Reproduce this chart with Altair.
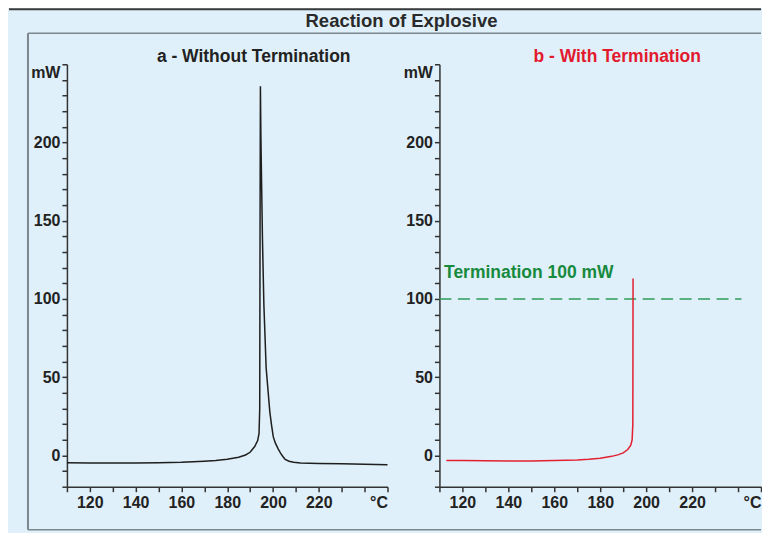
import altair as alt
import pandas as pd

# ---- data ----
a_T = [110, 120, 130, 140, 150, 160, 170, 175, 180, 185, 188, 190, 192, 193.3, 193.9,
       194.2, 194.35, 194.5, 194.7, 195.0, 195.4, 196.0, 197.0, 197.8, 198.6, 199.3,
       200.1, 201.0, 202.3, 203.3, 204.3, 205.3, 207.0, 209.0, 212.0, 220.0, 230.0, 240.0, 250.0]
a_mW = [-4.7, -4.8, -4.8, -4.8, -4.7, -4.4, -3.7, -3.2, -2.4, -1.2, 0.3, 2.0, 5.7, 9.5, 14.0,
        30.0, 150.0, 236.0, 205.0, 175.0, 138.0, 97.0, 56.0, 42.0, 28.0, 20.0,
        12.0, 8.0, 4.0, 1.5, -0.7, -2.5, -3.7, -4.4, -4.8, -5.1, -5.4, -5.7, -6.0]

b_T = [113, 120, 130, 140, 150, 160, 170, 175, 180, 185, 188, 190, 192, 193.3, 193.9, 194.2, 194.3]
b_mW = [-3.2, -3.3, -3.4, -3.5, -3.5, -3.3, -2.9, -2.5, -1.8, -0.6, 0.5, 1.6, 3.8, 6.5, 10.0, 20.0, 113.0]

term_level = [100]
term_x = [110, 241.5]
term_label = ["Termination 100 mW"]

x_ticks = list(range(110, 251, 10))
y_ticks = list(range(-20, 251, 10))

main_title = "Reaction of Explosive"
title_a = "a - Without Termination"
title_b = "b - With Termination"

FONT = "Liberation Sans"
BG = "#dff0fa"
FRAME = "#7c868e"

df_a = pd.DataFrame({"T": a_T, "mW": a_mW, "i": range(len(a_T))})
df_b = pd.DataFrame({"T": b_T, "mW": b_mW, "i": range(len(b_T))})
df_term = pd.DataFrame({"x1": [term_x[0]], "x2": [term_x[1]], "y": term_level})
df_tlab = pd.DataFrame({"T": [112], "mW": [116.5], "label": term_label})
one = pd.DataFrame({"d": [0]})

xs = alt.Scale(domain=[110, 250], nice=False, zero=False)
ys = alt.Scale(domain=[-20, 250], nice=False, zero=False)

axis_common = dict(
    domainColor="#333333", domainWidth=1.5, tickColor="#333333", tickWidth=1.5,
    tickSize=5, labelFont=FONT, labelFontWeight="bold", labelFontSize=16,
    labelColor="#222222", grid=False, title=None, labelOverlap=False,
)

def xaxis():
    return alt.Axis(
        values=x_ticks,
        labelExpr="datum.value == 250 ? '°C' : ((datum.value % 20 == 0 && datum.value >= 120 && datum.value <= 220) ? datum.label : '')",
        labelPadding=3, labelFlush=True, **axis_common)

def yaxis():
    return alt.Axis(
        values=y_ticks,
        labelExpr="datum.value == 250 ? 'mW' : ((datum.value % 50 == 0 && datum.value >= 0) ? datum.label : '')",
        labelPadding=2, labelFlush=True, **axis_common)

def X(field="T"):
    return alt.X(f"{field}:Q", scale=xs, axis=xaxis())

def Y(field="mW"):
    return alt.Y(f"{field}:Q", scale=ys, axis=yaxis())

LEFT = -58      # page x 8 relative to panel a origin (page x 66)
RIGHT = 695     # page x 761
BOTTOM = 466    # page y 530
SEP = -31       # page y 33
FRAME_L = -39   # page x 27

# ---- panel a ----
line_a = alt.Chart(df_a).mark_line(color="#1e1e1e", strokeWidth=1.5).encode(
    x=X(), y=Y(), order="i:Q")

top_dark = alt.Chart(one).mark_rule(color="#3a3a3a", strokeWidth=2).encode(
    x=alt.value(LEFT), x2=alt.value(RIGHT), y=alt.value(-55))
sep = alt.Chart(one).mark_rule(color=FRAME, strokeWidth=1.5).encode(
    x=alt.value(FRAME_L), x2=alt.value(RIGHT), y=alt.value(SEP))
left_b = alt.Chart(one).mark_rule(color=FRAME, strokeWidth=2).encode(
    x=alt.value(FRAME_L), y=alt.value(SEP), y2=alt.value(BOTTOM))
bottom_b = alt.Chart(one).mark_rule(color=FRAME, strokeWidth=1.5).encode(
    x=alt.value(FRAME_L), x2=alt.value(RIGHT), y=alt.value(BOTTOM))

t_main = alt.Chart(one).mark_text(
    text=main_title, font=FONT, fontSize=18.5, fontWeight="bold", color="#2a2a2a",
    align="center", baseline="middle").encode(x=alt.value(335), y=alt.value(-43))
t_a = alt.Chart(one).mark_text(
    text=title_a, font=FONT, fontSize=17.5, fontWeight="bold", color="#222222",
    align="center", baseline="middle").encode(x=alt.value(187), y=alt.value(-7))

panel_a = alt.layer(top_dark, sep, left_b, bottom_b, t_main, t_a, line_a).properties(
    width=321, height=423)

# ---- panel b ----
line_b = alt.Chart(df_b).mark_line(color="#e3202f", strokeWidth=1.5).encode(
    x=X(), y=Y(), order="i:Q")
term_rule = alt.Chart(df_term).mark_rule(
    color="#2e9a58", strokeWidth=1.5, strokeDash=[12, 6.5]).encode(
    x=alt.X("x1:Q", scale=xs, axis=xaxis()), x2="x2:Q",
    y=alt.Y("y:Q", scale=ys, axis=yaxis()))
term_text = alt.Chart(df_tlab).mark_text(
    font=FONT, fontSize=17.5, fontWeight="bold", color="#178a3e",
    align="left", baseline="middle").encode(
    x=alt.X("T:Q", scale=xs, axis=xaxis()), y=alt.Y("mW:Q", scale=ys, axis=yaxis()),
    text="label:N")
t_b = alt.Chart(one).mark_text(
    text=title_b, font=FONT, fontSize=17.5, fontWeight="bold", color="#e3192d",
    align="center", baseline="middle").encode(x=alt.value(178), y=alt.value(-7))

panel_b = alt.layer(term_rule, term_text, t_b, line_b).properties(width=322, height=423)

chart = alt.hconcat(panel_a, panel_b, spacing=52, bounds="flush").properties(
    padding={"left": 0, "top": 0, "right": 0, "bottom": 2}
).configure(background=BG, font=FONT).configure_view(stroke=None)

chart.save("out.html", embed_options={"renderer": "svg", "actions": False})
